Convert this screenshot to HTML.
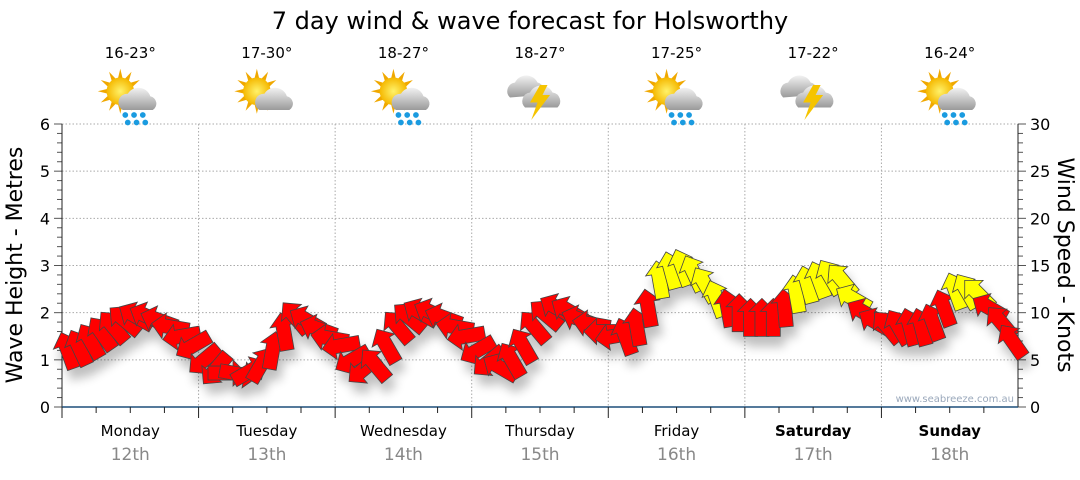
<!DOCTYPE html>
<html><head><meta charset="utf-8"><style>
body{margin:0;background:#fff;width:1080px;height:475px;overflow:hidden;font-family:"Liberation Sans",sans-serif}
svg text{font-family:"DejaVu Sans","Liberation Sans",sans-serif}
</style></head><body>
<svg id="chart" width="1080" height="475" viewBox="0 0 1080 475">
<defs>
<filter id="sh" x="-50%" y="-50%" width="200%" height="200%"><feGaussianBlur in="SourceAlpha" stdDeviation="5"/><feOffset dx="4" dy="10"/><feComponentTransfer><feFuncA type="linear" slope="0.25"/></feComponentTransfer><feMerge><feMergeNode/><feMergeNode in="SourceGraphic"/></feMerge></filter>
<radialGradient id="sun" cx="0.5" cy="0.5" r="0.5"><stop offset="0" stop-color="#fff26a"/><stop offset="1" stop-color="#f5b800"/></radialGradient>
<linearGradient id="cl" x1="0" y1="0" x2="0" y2="1"><stop offset="0" stop-color="#f2f2f2"/><stop offset="1" stop-color="#9a9a9a"/></linearGradient>
</defs>
<text x="530" y="29" font-size="24" text-anchor="middle" fill="#000">7 day wind &amp; wave forecast for Holsworthy</text>
<g id="grid"></g>
<g id="axes"></g>
<g id="icons"></g>
<g id="arrows" filter="url(#sh)"></g>
<text x="1014" y="402" font-size="10" text-anchor="end" fill="#9aa8bb">www.seabreeze.com.au</text>
<text transform="translate(22,265) rotate(-90)" font-size="22" text-anchor="middle">Wave Height - Metres</text>
<text transform="translate(1058,265) rotate(90)" font-size="22" text-anchor="middle">Wind Speed - Knots</text>
</svg>
<script>
const days=["Monday","Tuesday","Wednesday","Thursday","Friday","Saturday","Sunday"];
const dates=["12th","13th","14th","15th","16th","17th","18th"];
const temps=["16-23°","17-30°","18-27°","18-27°","17-25°","17-22°","16-24°"];
const iconTypes=["sunrain","suncloud","sunrain","storm","sunrain","storm","sunrain"];
const leftTicks=[0,1,2,3,4,5,6];
const rightTicks=[0,5,10,15,20,25,30];
const windKnots=[6,6.3,7,7.8,8.5,9.2,9.6,9.6,9.2,8.5,7.5,6.5,
 5,4,3.6,3.5,3.8,4.5,6,8,9.5,9.2,8.3,7.3,
 6.5,5,4,4.5,6.5,8.5,9.5,10,10,9.5,8.5,7.5,
 6,4.8,4.2,5,6.5,8.5,9.8,10.5,10.2,9.3,8.8,8,
 7.5,7.5,8.5,10.5,13.5,14.5,14.8,14.2,13,11.5,10.5,10,
 9.5,9.5,9.5,10.5,12,13,13.5,13.8,13.5,11.5,10,9,
 8.5,8.5,8.5,8.5,9,10.5,12.3,12.3,12,10.5,9,7];
const windDir=[-20,-25,-30,-35,-40,-50,-60,-65,-70,-80,-100,-120,
 -130,-140,90,100,60,30,10,-10,-40,-60,-70,-80,
 -100,-120,-130,-40,-30,-40,-50,-60,-65,-70,-80,-100,
 -120,-130,-60,-30,-30,-40,-50,-60,-60,-70,-80,-90,
 -100,-20,-10,-10,-10,-15,-20,-25,-30,-20,-10,0,
 0,0,0,-5,-10,-15,-20,-30,-40,-60,-60,-60,
 -40,-30,-15,-15,-20,-20,-20,-30,-45,-60,-40,-35];
const NS="http://www.w3.org/2000/svg";
const X0=62,X1=1018,Y0=407,Y1=124;
const dayW=(X1-X0)/7;
const PER=12;
const yM=m=>Y0-(m/6)*(Y0-Y1);
const yK=k=>Y0-(k/30)*(Y0-Y1);
function xi(i){return X0+(i+0.5)*dayW/PER;}
function mk(tag,attrs,parent){const e=document.createElementNS(NS,tag);for(const k in attrs)e.setAttribute(k,attrs[k]);parent.appendChild(e);return e;}
const grid=document.getElementById('grid'),axes=document.getElementById('axes'),icons=document.getElementById('icons'),arrows=document.getElementById('arrows');
leftTicks.forEach(v=>{ if(v>0){const l=mk('line',{x1:X0,x2:X1,y1:yM(v),y2:yM(v),stroke:'#aaa','stroke-dasharray':'1.5,2'},grid);}
 const t=mk('text',{x:50,y:yM(v)+6,'font-size':16,'text-anchor':'end'},axes);t.textContent=v;});
rightTicks.forEach(v=>{const t=mk('text',{x:1030,y:yK(v)+6,'font-size':16},axes);t.textContent=v;});
for(let i=0;i<=30;i++){const y=Y0-i*(Y0-Y1)/30;const big=i%5==0;
 mk('line',{x1:big?54:57,x2:X0,y1:y,y2:y,stroke:'#555'},axes);mk('line',{x1:X1,x2:big?1026:1023,y1:y,y2:y,stroke:'#555'},axes);}
mk('line',{x1:X0,x2:X0,y1:Y1,y2:Y0,stroke:'#222'},axes);
mk('line',{x1:X1,x2:X1,y1:Y1,y2:Y0,stroke:'#222'},axes);
mk('line',{x1:X0,x2:X1,y1:Y0,y2:Y0,stroke:'#1d4f7a','stroke-width':1.5},axes);
for(let d=0;d<7;d++){
 const xs=X0+d*dayW;
 if(d>0){const g=mk('line',{x1:xs,x2:xs,y1:Y1,y2:Y0,stroke:'#aaa','stroke-dasharray':'1.5,2'},grid);}
 for(let q=0;q<4;q++){const x=xs+q*dayW/4;mk('line',{x1:x,x2:x,y1:Y0,y2:Y0+(q==0?11:6),stroke:'#222'},axes);}
 const cx=xs+dayW/2;
 const bold=d>=5?'bold':'normal';
 const dn=mk('text',{x:cx,y:436,'font-size':15,'text-anchor':'middle','font-weight':bold},axes);dn.textContent=days[d];
 const dt=mk('text',{x:cx,y:460,'font-size':17,'text-anchor':'middle',fill:'#888'},axes);dt.textContent=dates[d];
 const tt=mk('text',{x:cx,y:58,'font-size':15,'text-anchor':'middle'},icons);tt.textContent=temps[d];
 const g=mk('g',{transform:`translate(${cx},95) scale(1.25)`},icons);
 const ty=iconTypes[d];
 if(ty!=='storm'){
  for(let r=0;r<12;r++){const a=r*30*Math.PI/180;mk('polygon',{points:`${-8+Math.cos(a)*18},${-3+Math.sin(a)*18} ${-8+Math.cos(a+0.2)*10},${-3+Math.sin(a+0.2)*10} ${-8+Math.cos(a-0.2)*10},${-3+Math.sin(a-0.2)*10}`,fill:'#f0a800'},g);}
  mk('circle',{cx:-8,cy:-3,r:11,fill:'url(#sun)'},g);
  mk('path',{d:'M-6,12 a7,7 0 0 1 4,-13 a10,10 0 0 1 18,2 a6,6 0 0 1 2,11 z',fill:'url(#cl)'},g);
  if(ty==='sunrain'){[0,7,14].forEach(o=>{mk('circle',{cx:-4+o,cy:16,r:2.3,fill:'#1a9be0'},g);mk('circle',{cx:-2+o,cy:22,r:2.3,fill:'#1a9be0'},g);});}
 }else{
  mk('path',{d:'M-24,2 a7,7 0 0 1 4,-12 a10,10 0 0 1 18,0 a6,6 0 0 1 3,10 z',fill:'url(#cl)'},g);
  mk('path',{d:'M-12,10 a7,7 0 0 1 4,-12 a10,10 0 0 1 18,0 a7,7 0 0 1 4,12 z',fill:'url(#cl)'},g);
  mk('polygon',{points:'0,-8 -8,6 -2,6 -7,20 8,0 2,0 6,-8',fill:'#f5c400'},g);
 }
}
const L=19,HW=13,SW=7,HL=13;
windKnots.forEach((k,i)=>{
 const cx=xi(i),cy=yK(k);
 const col=k>=11?'#ffff00':'#ff0000';
 const p=mk('polygon',{points:`0,${-L} ${HW},${-L+HL} ${SW},${-L+HL} ${SW},${L} ${-SW},${L} ${-SW},${-L+HL} ${-HW},${-L+HL}`,fill:col,stroke:'#444','stroke-width':0.8,transform:`translate(${cx},${cy}) rotate(${windDir[i]})`},arrows);
 
 
});
</script>
</body></html>
